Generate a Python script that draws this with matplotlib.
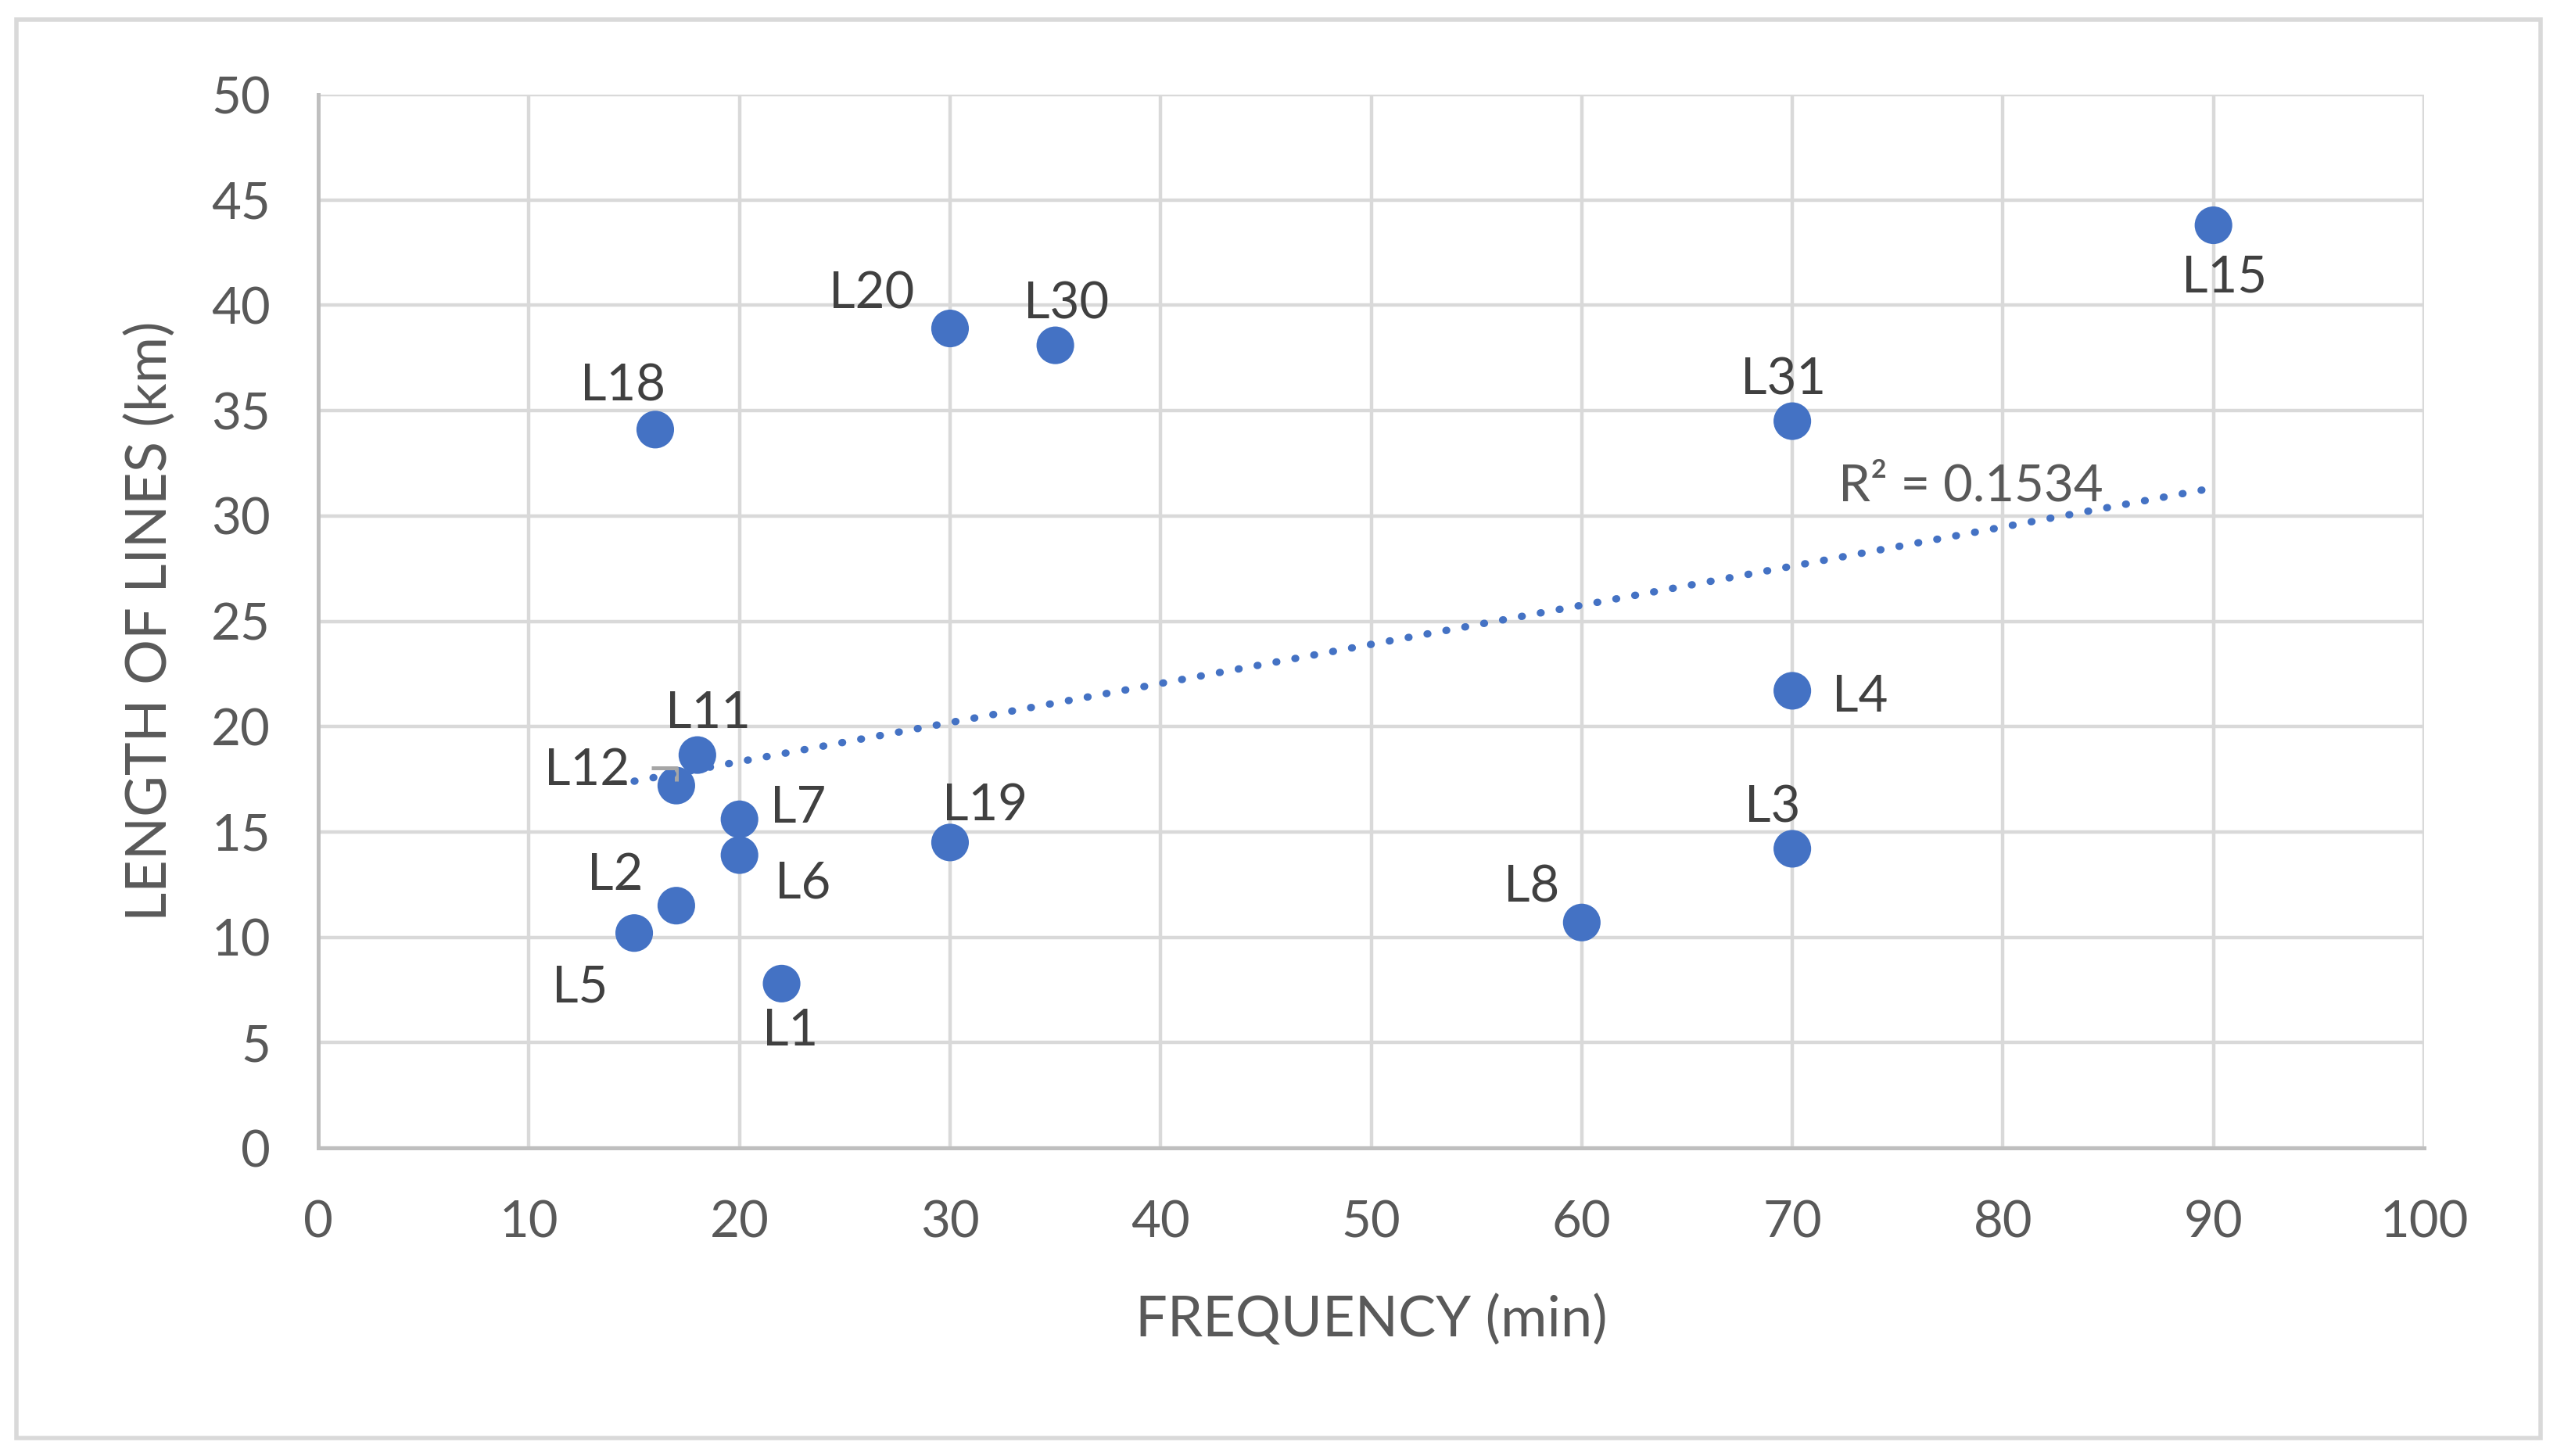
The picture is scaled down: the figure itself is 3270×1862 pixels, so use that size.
import numpy as np
import matplotlib
matplotlib.use("Agg")
import matplotlib.pyplot as plt
from matplotlib.patches import Rectangle

plt.rcParams['font.family'] = ['Lato', 'DejaVu Sans']

# data
lines = ['L1', 'L2', 'L3', 'L4', 'L5', 'L6', 'L7', 'L8', 'L11', 'L12',
         'L15', 'L18', 'L19', 'L20', 'L30', 'L31']
freq = [22, 17, 70, 70, 15, 20, 20, 60, 18, 17, 90, 16, 30, 30, 35, 70]
length = [7.8, 11.5, 14.2, 21.7, 10.2, 13.9, 15.6, 10.7, 18.65, 17.2,
          43.8, 34.1, 14.5, 38.9, 38.1, 34.5]
r2_text = 'R² = 0.1534'

# label offsets (points) so the labels sit like in the original
label_offsets = {
    'L1': (4, -22), 'L2': (-28, 14), 'L3': (-9, 19), 'L4': (31, -3),
    'L5': (-25, -25), 'L6': (29, -13), 'L7': (27, 5), 'L8': (-23, 16),
    'L11': (5, 19), 'L12': (-41, 7), 'L15': (5, -24), 'L18': (-15, 20),
    'L19': (16, 17), 'L20': (-36, 16), 'L30': (5, 19), 'L31': (-4, 19),
}

blue = '#4472C4'
grid_c = '#D9D9D9'
axis_c = '#BFBFBF'
tick_c = '#595959'
label_c = '#404040'

fig = plt.figure(figsize=(16.35, 9.31), dpi=200)
ax = fig.add_axes([0.1245, 0.2116, 0.8235, 0.7234])

# outer chart border
fig.patches.append(Rectangle((0.0065, 0.0125), 0.987, 0.974, transform=fig.transFigure,
                             fill=False, edgecolor=grid_c, linewidth=2.0))

ax.set_xlim(0, 100)
ax.set_ylim(0, 50)
ax.set_xticks(np.arange(0, 101, 10))
ax.set_yticks(np.arange(0, 51, 5))
ax.grid(True, color=grid_c, linewidth=1.6)
ax.set_axisbelow(True)
for s in ['top', 'right']:
    ax.spines[s].set_visible(False)
for s in ['left', 'bottom']:
    ax.spines[s].set_color(axis_c)
    ax.spines[s].set_linewidth(1.8)
ax.tick_params(length=0, labelsize=23.5, labelcolor=tick_c)
ax.tick_params(axis='y', pad=22)
ax.tick_params(axis='x', pad=24)

ax.set_xlabel('FREQUENCY (min)', fontsize=26, color=tick_c, labelpad=22)
ax.set_ylabel('LENGTH OF LINES (km)', fontsize=26, color=tick_c, labelpad=16)

# linear trendline
x = np.array(freq, dtype=float)
y = np.array(length, dtype=float)
slope, icpt = np.polyfit(x, y, 1)
xt = np.array([x.min(), x.max()])
ax.plot(xt, slope * xt + icpt, color=blue, linewidth=3.4,
        linestyle=(0, (0.1, 2.5)), dash_capstyle='round', zorder=6)

ax.scatter(x, y, s=300, color=blue, edgecolors='none', zorder=4)

# small grey error bar mark on L12
i12 = lines.index('L12')
x12, y12 = freq[i12], length[i12]
ax.plot([x12 - 1.2, x12, x12], [y12 + 0.85, y12 + 0.85, y12 + 0.2],
        color='#A6A6A6', linewidth=1.8, solid_capstyle='butt', zorder=5)

for name, xi, yi in zip(lines, freq, length):
    dx, dy = label_offsets[name]
    ax.annotate(name, (xi, yi), xytext=(dx, dy), textcoords='offset points',
                ha='center', va='center', fontsize=23.5, color=label_c, zorder=7)

ax.text(72.2, 31.4, r2_text, fontsize=23.5, color=tick_c, ha='left', va='center', zorder=7)

fig.savefig('out.png', dpi=200, facecolor='white')
